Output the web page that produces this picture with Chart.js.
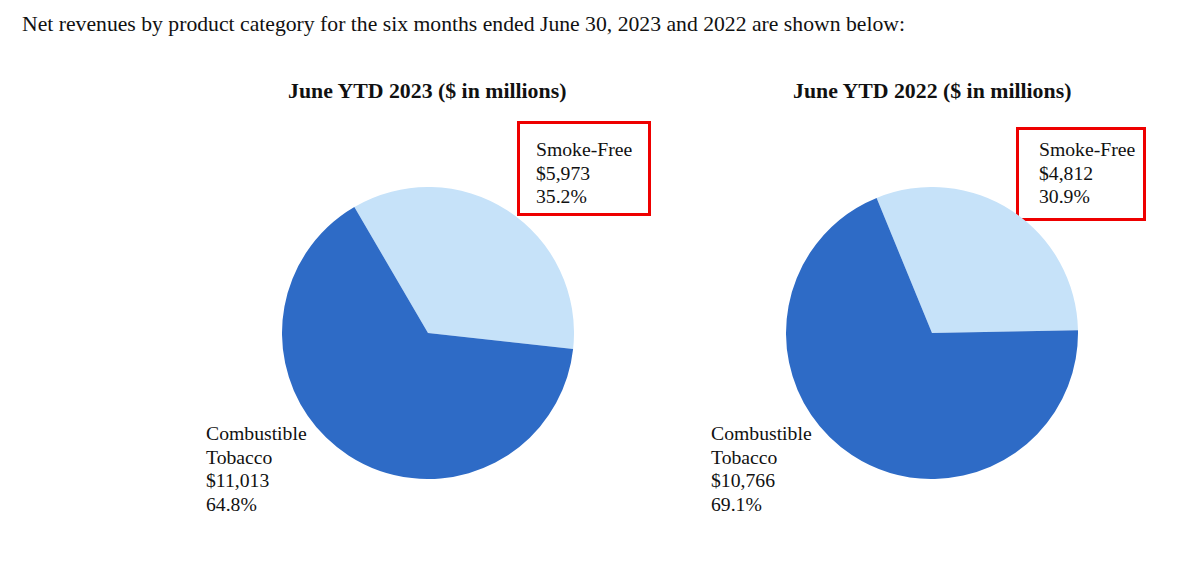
<!DOCTYPE html>
<html>
<head>
<meta charset="utf-8">
<script src="https://cdn.jsdelivr.net/npm/chart.js@4"></script>
<style>
  html, body { margin: 0; padding: 0; background: #fff; width: 1185px; height: 577px; overflow: hidden; }
  body { position: relative; font-family: "Liberation Serif", "Times New Roman", serif; color: #111; }
  .abs { position: absolute; white-space: nowrap; }
  #intro { left: 22px; top: 10px; font-size: 21.7px; line-height: 28px; }
  .ttl { font-weight: bold; font-size: 20px; line-height: 24px; top: 79px; transform: scaleX(1.09); transform-origin: left center; }
  .lbl { font-size: 19.7px; line-height: 23.5px; }
  .box { position: absolute; border: 3px solid #ee0000; box-sizing: border-box; }
  canvas { position: absolute; }
</style>
</head>
<body>
<div id="intro" class="abs"></div>
<div id="t0" class="abs ttl" style="left:288px"></div>
<div id="t1" class="abs ttl" style="left:793px"></div>
<div class="box" style="left:517px; top:121px; width:134px; height:95px"></div>
<div class="box" style="left:1016px; top:127px; width:130px; height:94px"></div>
<div id="sf0" class="abs lbl" style="left:536px; top:138px"></div>
<div id="sf1" class="abs lbl" style="left:1039px; top:138px"></div>
<div id="ct0" class="abs lbl" style="left:206px; top:422px"></div>
<div id="ct1" class="abs lbl" style="left:711px; top:422px"></div>
<canvas id="c0" width="292" height="292" style="left:282px; top:187px; width:292px; height:292px"></canvas>
<canvas id="c1" width="292" height="292" style="left:786px; top:187px; width:292px; height:292px"></canvas>
<script>
const introText = "Net revenues by product category for the six months ended June 30, 2023 and 2022 are shown below:";
const chartTitles = ["June YTD 2023 ($ in millions)", "June YTD 2022 ($ in millions)"];
const categories = ["Smoke-Free", "Combustible Tobacco"];
const values2023 = [5973, 11013];
const values2022 = [4812, 10766];
const percents2023 = ["35.2%", "64.8%"];
const percents2022 = ["30.9%", "69.1%"];
const rotations = [-30.3, -22.3];
const colors = ["#c6e2f9", "#2e6bc6"];

document.getElementById("intro").textContent = introText;
document.getElementById("t0").textContent = chartTitles[0];
document.getElementById("t1").textContent = chartTitles[1];

function fmt(v) { return "$" + v.toLocaleString("en-US"); }
function setLabel(id, lines) {
  const el = document.getElementById(id);
  el.innerHTML = "";
  lines.forEach((l, i) => {
    if (i) el.appendChild(document.createElement("br"));
    el.appendChild(document.createTextNode(l));
  });
}
setLabel("sf0", ["Smoke-Free", fmt(values2023[0]), percents2023[0]]);
setLabel("sf1", ["Smoke-Free", fmt(values2022[0]), percents2022[0]]);
setLabel("ct0", ["Combustible", "Tobacco", fmt(values2023[1]), percents2023[1]]);
setLabel("ct1", ["Combustible", "Tobacco", fmt(values2022[1]), percents2022[1]]);

function makePie(id, values, rotation) {
  new Chart(document.getElementById(id), {
    type: "pie",
    data: {
      labels: categories,
      datasets: [{ data: values, backgroundColor: colors, borderWidth: 0, hoverOffset: 0 }]
    },
    options: {
      responsive: false,
      animation: false,
      rotation: rotation,
      layout: { padding: 0 },
      plugins: { legend: { display: false }, tooltip: { enabled: false }, title: { display: false } },
      events: []
    }
  });
}
makePie("c0", values2023, rotations[0]);
makePie("c1", values2022, rotations[1]);
</script>
</body>
</html>
